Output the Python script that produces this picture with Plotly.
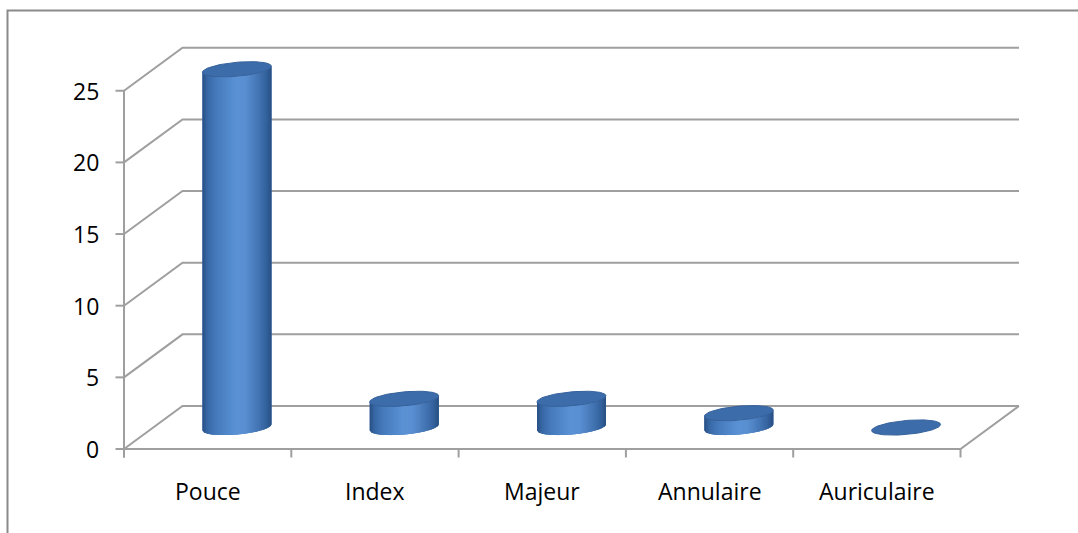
import numpy as np
import plotly.graph_objects as go

# ---- data -------------------------------------------------------------
categories = ["Pouce", "Index", "Majeur", "Annulaire", "Auriculaire"]
values = [25, 2, 2, 1, 0]
y_ticks = [0, 5, 10, 15, 20, 25]

# ---- pseudo-3D frame geometry (data units) ----------------------------
W, H = 1078, 533
PX_PER_CAT = 167.3      # pixels per category slot
PX_PER_VAL = 14.33      # pixels per value unit
ORIGIN_X, ORIGIN_Y = 124, 449   # pixel position of the front-left floor corner

DEPTH_U = 58.5 / PX_PER_CAT     # horizontal shift of the back wall
DEPTH_V = 43.0 / PX_PER_VAL     # vertical shift of the back wall

X_RANGE = [-ORIGIN_X / PX_PER_CAT, (W - ORIGIN_X) / PX_PER_CAT]
Y_RANGE = [-(H - ORIGIN_Y) / PX_PER_VAL, ORIGIN_Y / PX_PER_VAL]

N = len(categories)
Y_MAX = max(y_ticks)

# cylinder cross-section (sheared ellipse)
CYL_A = 34.5 / PX_PER_CAT
CYL_B = 7.0 / PX_PER_VAL
CYL_S = 3.0 / PX_PER_VAL

GRID = "#9f9f9f"
FONT = dict(family="Open Sans, Noto Sans, sans-serif", size=23, color="#000000")

fig = go.Figure()


def line(xs, ys, color=GRID, width=2):
    fig.add_trace(go.Scatter(x=xs, y=ys, mode="lines",
                             line=dict(color=color, width=width),
                             hoverinfo="skip", showlegend=False))


# left wall diagonals + back wall gridlines
for t in y_ticks:
    line([0, DEPTH_U, N + DEPTH_U], [t, t + DEPTH_V, t + DEPTH_V])

# floor: front edge and right edge
line([0, N, N + DEPTH_U], [0, 0, DEPTH_V])

# vertical value axis and its ticks
tick_u = 8.5 / PX_PER_CAT
tick_v = 8.5 / PX_PER_VAL
line([0, 0], [-tick_v, Y_MAX])
for t in y_ticks:
    line([-tick_u, 0], [t, t])
# category tick marks
for i in range(N + 1):
    line([i, i], [0, -tick_v])


# ---- cylinders --------------------------------------------------------
def hex_to_rgb(h):
    h = h.lstrip("#")
    return np.array([int(h[k:k + 2], 16) for k in (0, 2, 4)], dtype=float)


GRAD = [(0.00, "#284f83"), (0.07, "#3767a5"), (0.22, "#477dbf"),
        (0.48, "#5a91d4"), (0.62, "#5990d2"), (0.80, "#4576b5"),
        (0.93, "#33619c"), (1.00, "#284f83")]


def grad_color(p):
    for (p0, c0), (p1, c1) in zip(GRAD[:-1], GRAD[1:]):
        if p <= p1:
            f = (p - p0) / (p1 - p0)
            c = hex_to_rgb(c0) * (1 - f) + hex_to_rgb(c1) * f
            return "rgb(%d,%d,%d)" % tuple(np.round(c))
    return GRAD[-1][1]


def front_arc(p, cy):
    return cy + CYL_S * p - CYL_B * np.sqrt(np.clip(1 - p ** 2, 0, 1))


def body_strip(cx, base, top, p0, p1, color):
    ps = np.linspace(p0, p1, 6)
    xs = np.concatenate([cx + CYL_A * ps, cx + CYL_A * ps[::-1]])
    ys = np.concatenate([front_arc(ps, base), front_arc(ps[::-1], top)])
    fig.add_trace(go.Scatter(x=xs, y=ys, mode="lines", fill="toself",
                             fillcolor=color, line=dict(width=0),
                             hoverinfo="skip", showlegend=False))


N_STRIPS = 40
for i, v in enumerate(values):
    cx = i + 0.5 + DEPTH_U / 2
    base = DEPTH_V / 2
    top = v + DEPTH_V / 2

    if v > 0:
        # solid body underneath, then overlapping shaded strips
        body_strip(cx, base, top, -1, 1, "#4679b9")
        step = 2 / N_STRIPS
        for k in range(N_STRIPS):
            p0 = -1 + k * step
            p1 = min(1.0, p0 + 2.2 * step)
            body_strip(cx, base, top, p0, p1, grad_color((k + 0.5) / N_STRIPS))

    th = np.linspace(0, 2 * np.pi, 90)
    ex = cx + CYL_A * np.cos(th)
    ey = top + CYL_S * np.cos(th) + CYL_B * np.sin(th)
    fig.add_trace(go.Scatter(x=ex, y=ey, mode="lines", fill="toself",
                             fillcolor="#3d6cab", line=dict(color="#36629c", width=1),
                             hoverinfo="skip", showlegend=False))

# ---- labels -----------------------------------------------------------
for t in y_ticks:
    fig.add_annotation(x=-23 / PX_PER_CAT, y=t, text=str(t), showarrow=False,
                       xanchor="right", yanchor="middle", font=FONT)

for i, c in enumerate(categories):
    fig.add_annotation(x=i + 0.5, y=-42 / PX_PER_VAL, text=c, showarrow=False,
                       xanchor="center", yanchor="middle", font=FONT)

# outer chart-area border
fig.add_shape(type="rect", xref="paper", yref="paper",
              x0=7.5 / W, y0=-0.1, x1=1.1, y1=1 - 10.5 / H,
              line=dict(color="#8a8a8a", width=2), fillcolor="rgba(0,0,0,0)")

fig.update_layout(
    width=W, height=H, autosize=False,
    margin=dict(l=0, r=0, t=0, b=0, pad=0),
    paper_bgcolor="white", plot_bgcolor="white",
    xaxis=dict(range=X_RANGE, visible=False, fixedrange=True),
    yaxis=dict(range=Y_RANGE, visible=False, fixedrange=True),
    showlegend=False,
)

fig.write_html("out.html")
